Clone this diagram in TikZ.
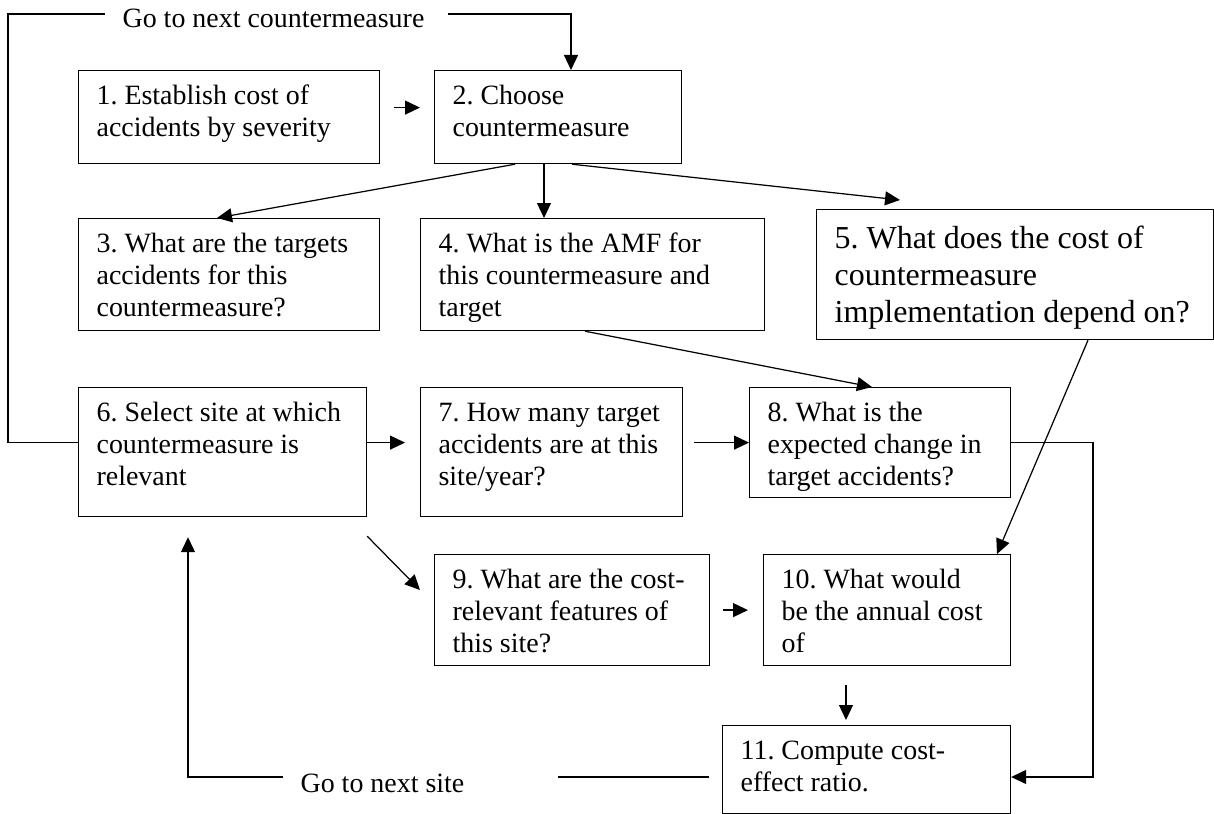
\documentclass[tikz,border=0pt]{standalone}
\usepackage{fontspec}
\setmainfont{Liberation Serif}
\usetikzlibrary{arrows.meta}
\frenchspacing
\begin{document}
\begin{tikzpicture}[>={Triangle[length=0.3cm,width=0.28cm]},x=0.02cm,y=-0.02cm,line width=0.7pt,
	stage/.style={draw,anchor=north west,inner xsep=0.36cm,inner ysep=0.3cm,text height=0.38cm,font=\fontsize{15.9pt}{18.2pt}\selectfont,
		execute at begin node={\spaceskip=0.25em\rightskip=0pt plus 1fil minus 3cm\relax}},
	tag/.style={anchor=base west,inner sep=0pt,font=\fontsize{15.9pt}{18.2pt}\selectfont}]
	\useasboundingbox (0,0) rectangle (1214,814);
	\node[stage,text width=5.3cm,text depth=0.88cm] (b1) at (78,70) {1. Establish cost of\\accidents by severity};
	\node[stage,text width=4.22cm,text depth=0.88cm] (b2) at (434,70) {2. Choose\\countermeasure};
	\node[stage,text width=5.3cm,text depth=1.26cm] (b3) at (78,218) {3. What are the targets\\accidents for this\\countermeasure?};
	\node[stage,text width=6.16cm,text depth=1.26cm] (b4) at (420,218) {4. What is the AMF for\\this countermeasure and\\target};
	\node[stage,text width=7.22cm,text depth=1.52cm,text height=0.48cm,font=\fontsize{18.2pt}{21pt}\selectfont] (b5) at (816,209) {5. What does the cost of\\countermeasure\\implementation depend on?};
	\node[stage,text width=5.04cm,text depth=1.6cm] (b6) at (78,387) {6. Select site at which\\countermeasure is\\relevant};
	\node[stage,text width=4.52cm,text depth=1.6cm] (b7) at (420,387) {7. How many target\\accidents are at this\\site/year?};
	\node[stage,text width=4.5cm,text depth=1.22cm] (b8) at (749,387) {8. What is the\\expected change in\\target accidents?};
	\node[stage,text width=4.78cm,text depth=1.24cm] (b9) at (434,554) {9. What are the cost-\\relevant features of\\this site?};
	\node[stage,text width=4.22cm,text depth=1.24cm] (b10) at (763,554) {10. What would\\be the annual cost\\of};
	\node[stage,text width=5.04cm,text depth=0.78cm] (b11) at (722,725) {11. Compute cost-\\effect ratio.};
	\node[tag] (nextcm) at (122,28) {Go to next countermeasure};
	\node[tag] (nextsite) at (300,792) {Go to next site};
	\coordinate (cmL) at (105,14);
	\coordinate (cmR) at (448,14);
	\coordinate (nsL) at (283,777);
	\coordinate (nsR) at (558,777);
	\coordinate (t5) at (900,200);
	\draw (b6.west |- b8) -| (8,14) -- (cmL);
	\draw[->] (cmR) -| (b2.north -| 571,0);
	\draw[->,shorten <=0.28cm,shorten >=0.28cm] ([yshift=0.19cm]b1.east) -- ([yshift=0.19cm]b2.west);
	\draw[->] (b2.south -| 515,0) -- (b3.north -| 217,0);
	\draw[->] (b2.south -| 544,0) -- (b4.north -| 544,0);
	\draw[->] (b2.south -| 572,0) -- (t5);
	\draw[->] (b4.south -| 585,0) -- (b8.north -| 872,0);
	\draw[->] (b5.south -| 1088,0) -- (b10.north -| 997,0);
	\draw[->,shorten >=0.3cm] (b6.east |- b8) -- (b7.west |- b8);
	\draw[->,shorten <=0.22cm] (b7.east |- b8) -- (b8.west);
	\draw[->] (b8.east) -| (1093,777) -- (b11.east |- 0,777);
	\draw[->] ([yshift=-0.38cm]b6.south east) -- ([xshift=-0.28cm,yshift=-0.72cm]b9.north west);
	\draw[->,shorten <=0.26cm,shorten >=0.3cm] (b9.east) -- (b10.west |- b9.east);
	\draw[->,shorten <=0.38cm,shorten >=0.1cm] (b10.south -| 846,0) -- (b11.north -| 846,0);
	\draw[shorten <=0.26cm] (b11.west |- 0,777) -- (nsR);
	\draw[->,shorten >=0.4cm] (nsL) -| (b6.south -| 188,0);
\end{tikzpicture}
\end{document}
